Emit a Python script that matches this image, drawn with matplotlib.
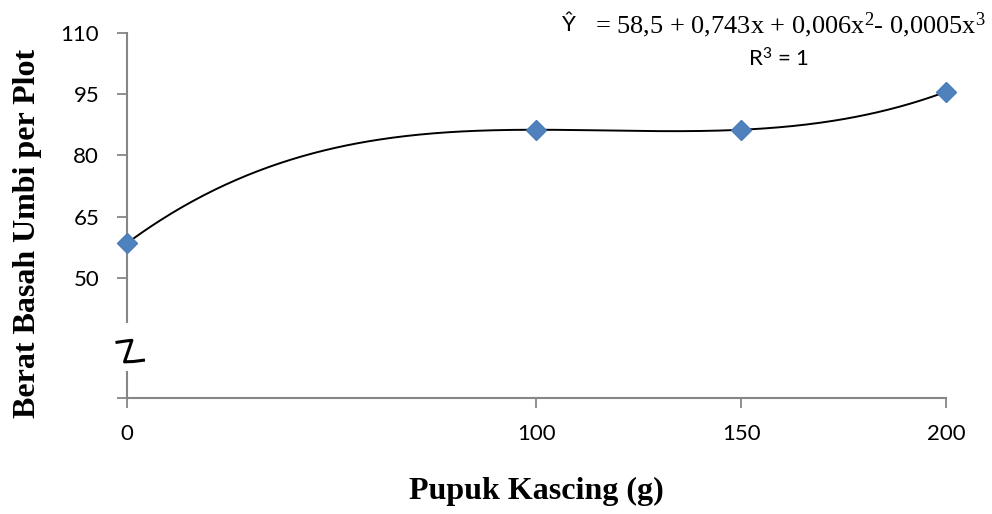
import matplotlib
matplotlib.use("Agg")
import matplotlib.pyplot as plt
import numpy as np

# data
dose = [0, 100, 150, 200]
weight = [58.5, 86.3, 86.3, 95.6]
x_ticks = [0, 100, 150, 200]
y_ticks = [50, 65, 80, 95, 110]
y_min, y_max = 20.6, 110

axis_grey = "#868686"
marker_blue = "#4F81BD"

plt.rcParams["mathtext.fontset"] = "custom"
plt.rcParams["mathtext.rm"] = "Liberation Serif"
plt.rcParams["mathtext.it"] = "Liberation Serif:italic"
plt.rcParams["mathtext.sf"] = "Lato"

fig = plt.figure(figsize=(9.92, 5.14), dpi=100)
ax = fig.add_axes([0.128, 0.2257, 0.8256, 0.7101])

# smooth cubic trend through the points
coef = np.polyfit(dose, weight, 3)
xs = np.linspace(0, 200, 300)
ax.plot(xs, np.polyval(coef, xs), color="black", lw=1.4, zorder=2)
ax.plot(dose, weight, linestyle="none", marker="D", markersize=10.5,
        color=marker_blue, markeredgecolor="#4A7EBB", zorder=3, clip_on=False)

ax.set_xlim(0, 200)
ax.set_ylim(y_min, y_max)
ax.set_xticks(x_ticks)
ax.set_yticks(y_ticks)
ax.set_yticks([y_min], minor=True)
ax.tick_params(axis="both", which="both", direction="out", length=7, width=1.3,
               color=axis_grey, labelsize=16, labelcolor="black")
ax.tick_params(axis="x", pad=12)
ax.tick_params(axis="y", pad=13)
for lab in ax.get_xticklabels() + ax.get_yticklabels():
    lab.set_fontfamily("Lato")

for side in ["top", "right", "left"]:
    ax.spines[side].set_visible(False)
ax.spines["bottom"].set_color(axis_grey)
ax.spines["bottom"].set_linewidth(1.5)

# left axis drawn in two pieces with a gap for the break mark
ax.plot([0, 0], [0.208, 1.0], transform=ax.transAxes, color=axis_grey,
        lw=1.5, clip_on=False)
ax.plot([0, 0], [0.0, 0.071], transform=ax.transAxes, color=axis_grey,
        lw=1.5, clip_on=False)
zx = [-0.014, -0.002, 0.006, -0.003, 0.008, 0.022]
zy = [0.152, 0.156, 0.158, 0.099, 0.100, 0.104]
ax.plot(zx, zy, transform=ax.transAxes, color="black", lw=2.2,
        clip_on=False, solid_capstyle="butt")

ax.set_ylabel("Berat Basah Umbi per Plot", fontfamily="Liberation Serif",
              fontweight="bold", fontsize=23)
ax.yaxis.set_label_coords(-0.104, 0.452)
ax.set_xlabel("Pupuk Kascing (g)", fontfamily="Liberation Serif",
              fontweight="bold", fontsize=23)
ax.xaxis.set_label_coords(0.4994, -0.215)

fig.text(0.567, 0.952, "\u0176", fontfamily="Lato", fontsize=16,
         ha="left", va="center")
fig.text(0.600, 0.95, "= 58,5 + 0,743x + 0,006x$^2$- 0,0005x$^3$",
         fontfamily="Liberation Serif", fontsize=19, ha="left", va="center")
fig.text(0.785, 0.887, "R$^{\\mathsf{3}}$ = 1", fontfamily="Lato",
         fontsize=16, ha="center", va="center")

fig.savefig("out.png", dpi=100)
